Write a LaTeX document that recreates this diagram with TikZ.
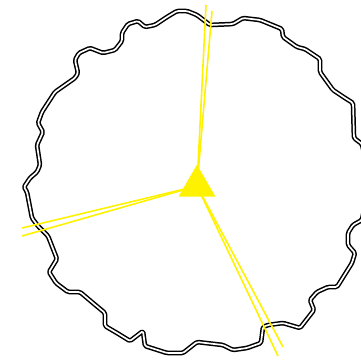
\documentclass[tikz,border=0pt]{standalone}
\usepackage{tikz}
\usetikzlibrary{shapes.geometric}

\begin{document}
\begin{tikzpicture}[x=1pt, y=-1pt,
    rim/.style={draw=black, double=white, line width=1.5pt, double distance=1.7pt, rounded corners=1.5pt, line join=round},
    ray/.style={draw=yellow, line width=1.6pt},
    tri/.style={regular polygon, regular polygon sides=3, fill=yellow, inner sep=0pt, minimum size=42.7pt}]
        \useasboundingbox (0,0) rectangle (361,362);
        % Wobbly rim
        \draw[rim] (24,187) -- (30,178) -- (37,172) -- (40,165) -- (37,145) -- (43,132) -- (38,123) -- (42,112)
            -- (55,92) -- (75,78) -- (78,73) -- (75,60) -- (79,53) -- (90,48) -- (103,53) -- (115,50)
            -- (122,41) -- (122,33) -- (128,24) -- (138,21) -- (145,27) -- (155,25) -- (167,17) -- (177,11)
            -- (187,11) -- (197,15) -- (210,25) -- (233,24) -- (243,18) -- (260,20) -- (282,29) -- (283,37)
            -- (297,47) -- (305,49) -- (320,59) -- (320,72) -- (333,90) -- (345,98) -- (353,103) -- (354,138)
            -- (362,144) -- (370,180) -- (362,220) -- (353,225) -- (348,233) -- (348,245) -- (355,253)
            -- (352,263) -- (337,287) -- (328,287) -- (317,292) -- (310,300) -- (314,310) -- (300,328)
            -- (283,323) -- (268,325) -- (263,327) -- (261,343) -- (247,348) -- (233,350) -- (223,345)
            -- (197,342) -- (183,353) -- (167,353) -- (145,346) -- (143,331) -- (130,341) -- (117,333)
            -- (105,326) -- (105,313) -- (93,303) -- (80,292) -- (68,292) -- (56,283) -- (49,272) -- (57,259)
            -- (48,236) -- (38,226) -- (32,218) -- (27,192) -- cycle;
        % Rays
        \coordinate (mid) at (197,186);
        \coordinate (n1) at (206,5);
        \coordinate (n2) at (212,11);
        \coordinate (w1) at (22,228);
        \coordinate (w2) at (22,236);
        \coordinate (s1) at (278,356);
        \coordinate (s2) at (283,347);
        \foreach \tip in {n1,n2,w1,w2,s1,s2}
            \draw[ray] (mid) -- (\tip);
        % Hub
        \node[tri] (hub) at (mid) {};
    \end{tikzpicture}
\end{document}
